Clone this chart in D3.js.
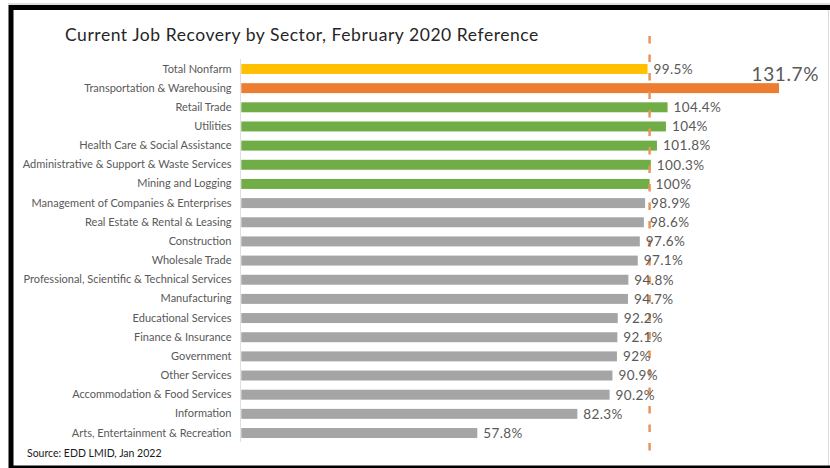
<!DOCTYPE html>
<html>
<head>
<meta charset="utf-8">
<script src="https://cdn.jsdelivr.net/npm/d3@7"></script>
<style>
  html, body { margin: 0; padding: 0; background: #fff; }
  svg { display: block; }
</style>
</head>
<body>
<svg id="chart" width="830" height="468"></svg>
<script>
// Sectors, top to bottom
const sectors = [
  "Total Nonfarm",
  "Transportation & Warehousing",
  "Retail Trade",
  "Utilities",
  "Health Care & Social Assistance",
  "Administrative & Support & Waste Services",
  "Mining and Logging",
  "Management of Companies & Enterprises",
  "Real Estate & Rental & Leasing",
  "Construction",
  "Wholesale Trade",
  "Professional, Scientific & Technical Services",
  "Manufacturing",
  "Educational Services",
  "Finance & Insurance",
  "Government",
  "Other Services",
  "Accommodation & Food Services",
  "Information",
  "Arts, Entertainment & Recreation"
];

// Current employment as % of February 2020 level
const recovery = [99.5, 131.7, 104.4, 104, 101.8, 100.3, 100, 98.9, 98.6, 97.6,
                  97.1, 94.8, 94.7, 92.2, 92.1, 92, 90.9, 90.2, 82.3, 57.8];

// Bar group: total, leader, recovered, not yet recovered
const groups = ["total", "leader", "above", "above", "above", "above", "above",
                "below", "below", "below", "below", "below", "below", "below",
                "below", "below", "below", "below", "below", "below"];

const referenceLevel = 100;
const titleText = "Current Job Recovery by Sector, February 2020 Reference";
const sourceText = "Source: EDD LMID, Jan 2022";

const rows = sectors.map((s, i) => ({ sector: s, value: recovery[i], group: groups[i] }));

const color = d3.scaleOrdinal()
  .domain(["total", "leader", "above", "below"])
  .range(["#FFC000", "#ED7D31", "#70AD47", "#A5A5A5"]);

const svg = d3.select("#chart");
const W = 830, H = 468;
const font = "Lato, 'Open Sans', sans-serif";

// frame
svg.append("rect").attr("width", W).attr("height", H).attr("fill", "#fff");
svg.append("line").attr("x1", 8).attr("x2", W).attr("y1", 4).attr("y2", 4)
  .attr("stroke", "#bdbdbd").attr("stroke-width", 1);
svg.append("line").attr("x1", W - 1.5).attr("x2", W - 1.5).attr("y1", 4).attr("y2", H)
  .attr("stroke", "#d9d9d9").attr("stroke-width", 1);
svg.append("path")
  .attr("d", `M${W},7.5 H11 V${H}`)
  .attr("fill", "none").attr("stroke", "#000").attr("stroke-width", 5);
svg.append("line").attr("x1", 11).attr("x2", W).attr("y1", 467).attr("y2", 467)
  .attr("stroke", "#000").attr("stroke-width", 3);

// scales
const x = d3.scaleLinear().domain([0, 100]).range([241.3, 649.6]);
const y = d3.scaleBand().domain(sectors).range([59.4, 442.6])
  .paddingInner(0.48).paddingOuter(0.24);

// title
svg.append("text")
  .attr("x", 65).attr("y", 41)
  .attr("font-family", font).attr("font-size", 17.5)
  .attr("letter-spacing", 0.55)
  .attr("fill", "#262626")
  .text(titleText);

// category axis
const yAxis = d3.axisLeft(y).tickSize(0).tickPadding(9);
const gy = svg.append("g").attr("transform", `translate(${x(0) - 0.8},0)`).call(yAxis);
gy.select(".domain").attr("stroke", "#e0e0e0").attr("stroke-width", 1)
  .attr("d", `M0,${59}V${442}`);
gy.selectAll("text")
  .attr("font-family", font).attr("font-size", 11)
  .attr("fill", "#595959");

// bars
svg.append("g").selectAll("rect").data(rows).join("rect")
  .attr("x", x(0))
  .attr("y", d => y(d.sector))
  .attr("width", d => x(d.value) - x(0))
  .attr("height", y.bandwidth())
  .attr("fill", d => color(d.group));

// 100% reference line
svg.append("line")
  .attr("x1", x(referenceLevel)).attr("x2", x(referenceLevel))
  .attr("y1", 36).attr("y2", 451)
  .attr("stroke", "#E8955A").attr("stroke-width", 2.5)
  .attr("stroke-dasharray", "7.5,11");

// value labels
const fmt = v => `${v}%`;
svg.append("g").selectAll("text").data(rows.filter(d => d.group !== "leader")).join("text")
  .attr("x", d => x(d.value) + 6)
  .attr("y", d => y(d.sector) + y.bandwidth() / 2)
  .attr("dy", "0.36em")
  .attr("font-family", font).attr("font-size", 13.5)
  .attr("letter-spacing", 0.4)
  .attr("fill", "#595959")
  .text(d => fmt(d.value));

// leader's label sits above its bar end
const leader = rows.find(d => d.group === "leader");
svg.append("text")
  .attr("x", x(leader.value) + 40)
  .attr("y", y(leader.sector) - 2)
  .attr("text-anchor", "end")
  .attr("font-family", font).attr("font-size", 19)
  .attr("letter-spacing", 0.6)
  .attr("fill", "#595959")
  .text(fmt(leader.value));

// source note
svg.append("text")
  .attr("x", 27).attr("y", 457)
  .attr("font-family", font).attr("font-size", 10.5)
  .attr("fill", "#1a1a1a")
  .text(sourceText);
</script>
</body>
</html>
